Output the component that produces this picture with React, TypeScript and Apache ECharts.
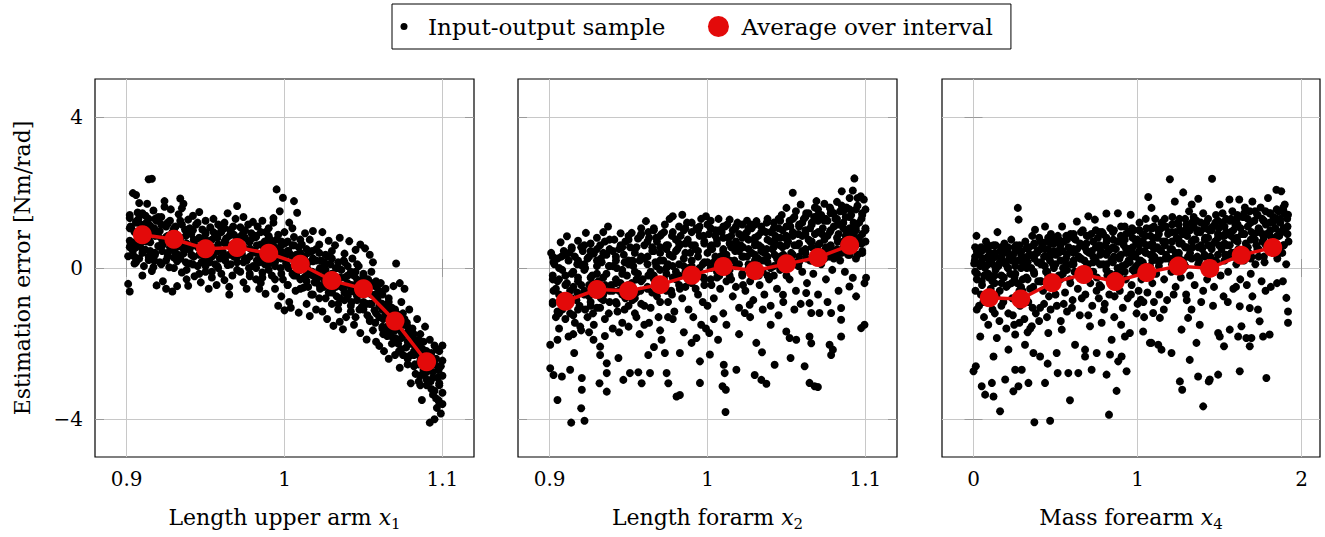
import React, { useEffect, useRef } from "react";
import * as echarts from "echarts";

// ---------- data ----------
const panelTitles = ["Length upper arm ", "Length forarm ", "Mass forearm "];
const panelSubscripts = ["1", "2", "4"];
const xTicks1 = [0.9, 1, 1.1];
const xTicks3 = [0, 1, 2];
const yTicks = [-4, 0, 4];

const avgXLength = [0.91, 0.93, 0.95, 0.97, 0.99, 1.01, 1.03, 1.05, 1.07, 1.09];
const avgXMass = [0.096, 0.288, 0.48, 0.672, 0.864, 1.056, 1.248, 1.44, 1.632, 1.824];
const avgUpperArm = [0.88, 0.76, 0.51, 0.54, 0.39, 0.1, -0.33, -0.55, -1.4, -2.48];
const avgForearmLength = [-0.88, -0.57, -0.6, -0.44, -0.19, 0.04, -0.07, 0.11, 0.28, 0.6];
const avgForearmMass = [-0.79, -0.82, -0.39, -0.17, -0.36, -0.12, 0.05, -0.01, 0.34, 0.54];

const upperArmSamples: number[][] = [
  [0.901,-0.42],[0.902,-0.62],[0.901,0.31],[0.902,0.72],[0.903,1.05],[0.902,1.32],[0.904,1.98],[0.906,1.93],[0.905,0.12],[0.906,0.55],[0.907,0.88],[0.907,1.47],[0.908,0.25],[0.909,1.15],[0.909,0.66],[0.904,0.45],[0.908,1.72],[0.91,-0.2],[0.906,1.23],
  [0.911,0.05],[0.912,0.48],[0.912,1.38],[0.913,0.92],[0.914,2.35],[0.916,2.36],[0.914,0.21],[0.915,1.12],[0.915,0.68],[0.916,-0.08],[0.917,1.52],[0.918,0.35],[0.918,0.85],[0.919,-0.46],[0.919,1.25],[0.92,0.58],[0.913,1.7],[0.917,0.02],
  [0.921,0.98],[0.921,0.15],[0.922,1.35],[0.923,0.62],[0.923,-0.35],[0.924,1.77],[0.925,0.82],[0.925,-0.55],[0.926,0.4],[0.926,1.18],[0.927,0.02],[0.928,1.55],[0.928,0.7],[0.929,-0.62],[0.929,0.95],[0.93,0.28],[0.924,1.62],
  [0.931,1.1],[0.931,0.52],[0.932,-0.48],[0.932,0.18],[0.933,1.42],[0.934,0.8],[0.934,1.84],[0.935,-0.12],[0.936,1.7],[0.936,0.38],[0.937,1.02],[0.938,0.65],[0.938,-0.3],[0.939,1.28],[0.939,-0.47],[0.94,0.12],[0.935,1.58],
  [0.941,0.9],[0.941,0.35],[0.942,1.38],[0.943,-0.22],[0.943,0.62],[0.944,1.15],[0.945,0.05],[0.946,0.78],[0.946,1.48],[0.947,-0.38],[0.948,0.45],[0.948,1.02],[0.949,0.2],[0.95,1.25],[0.95,-0.1],
  [0.951,0.72],[0.952,-0.55],[0.952,0.3],[0.953,1.08],[0.954,0.55],[0.954,-0.25],[0.955,1.3],[0.956,0.88],[0.956,0.1],[0.957,-0.45],[0.958,0.62],[0.958,1.15],[0.959,0.25],[0.96,0.95],[0.96,-0.15],
  [0.961,0.42],[0.962,1.2],[0.962,-0.32],[0.963,0.78],[0.964,0.08],[0.964,1.45],[0.965,-0.7],[0.966,0.55],[0.966,1.02],[0.967,-0.2],[0.968,0.3],[0.968,0.88],[0.969,1.3],[0.97,1.64],[0.97,0.15],[0.965,-0.5],
  [0.971,0.65],[0.972,-0.1],[0.972,1.08],[0.973,0.38],[0.974,1.35],[0.974,-0.38],[0.975,0.8],[0.976,-0.55],[0.976,0.2],[0.977,1.15],[0.978,0.52],[0.978,-0.22],[0.979,0.92],[0.98,0.05],[0.98,1.22],
  [0.981,0.45],[0.982,-0.3],[0.982,0.82],[0.983,1.1],[0.984,0.15],[0.984,-0.55],[0.985,0.62],[0.986,1.25],[0.986,-0.12],[0.987,0.35],[0.988,0.95],[0.988,-0.68],[0.989,0.58],[0.99,0.12],[0.99,1.05],[0.985,-0.4],
  [0.991,0.75],[0.992,-0.2],[0.992,0.42],[0.993,1.2],[0.994,-0.55],[0.994,0.05],[0.995,2.08],[0.996,0.88],[0.996,-1.0],[0.997,0.28],[0.997,1.5],[0.998,-0.75],[0.998,0.6],[0.999,1.86],[0.999,-0.3],[1.0,-1.12],[1.0,0.95],[0.993,1.32],
  [1.001,0.12],[1.002,-0.45],[1.002,0.7],[1.003,1.2],[1.003,-0.9],[1.004,0.35],[1.005,-0.15],[1.006,1.77],[1.006,0.82],[1.007,-0.6],[1.008,1.46],[1.008,0.2],[1.009,-1.18],[1.009,0.55],[1.01,-0.3],[1.005,1.05],[1.004,-1.05],
  [1.011,0.62],[1.012,-0.52],[1.012,0.08],[1.013,0.92],[1.014,-0.2],[1.014,-0.95],[1.015,0.4],[1.016,-1.27],[1.016,0.75],[1.017,-0.7],[1.018,0.18],[1.018,0.98],[1.019,-0.38],[1.02,0.5],[1.02,-1.1],[1.015,-0.05],
  [1.021,-0.25],[1.022,0.62],[1.022,-0.8],[1.023,0.2],[1.024,-1.15],[1.024,0.95],[1.025,-0.5],[1.026,0.35],[1.026,-0.05],[1.027,-1.35],[1.028,0.72],[1.028,-0.65],[1.029,0.1],[1.03,-0.95],[1.03,0.45],[1.025,-0.3],
  [1.031,-1.53],[1.032,-0.3],[1.032,0.6],[1.033,-0.75],[1.034,0.15],[1.034,-1.1],[1.035,0.8],[1.036,-0.5],[1.036,-0.05],[1.037,-1.62],[1.038,0.38],[1.038,-0.85],[1.039,-1.3],[1.04,0.05],[1.04,-0.4],[1.035,-1.42],
  [1.041,0.71],[1.042,-0.62],[1.042,-1.15],[1.043,0.25],[1.044,-0.2],[1.044,-1.5],[1.045,0.48],[1.046,-0.85],[1.046,-0.4],[1.047,0.05],[1.048,-1.72],[1.048,0.62],[1.049,-1.02],[1.05,-0.15],[1.05,-0.6],[1.045,-1.3],
  [1.051,0.52],[1.052,-1.89],[1.052,-0.95],[1.053,-0.3],[1.054,-1.4],[1.054,0.35],[1.055,-0.7],[1.056,-1.65],[1.056,0.15],[1.057,-1.12],[1.058,-0.5],[1.058,-1.95],[1.059,-0.85],[1.06,-2.06],[1.06,-1.3],[1.055,-0.1],
  [1.061,-0.4],[1.062,-1.55],[1.062,-0.95],[1.063,-2.2],[1.064,-1.2],[1.064,-0.55],[1.065,-1.8],[1.066,-2.4],[1.066,-0.8],[1.067,-1.45],[1.068,-2.0],[1.068,-1.05],[1.069,-0.48],[1.07,-1.65],[1.07,-2.3],[1.065,-1.3],[1.0707,0.12],
  [1.071,-1.2],[1.072,-2.0],[1.072,-1.6],[1.073,-2.64],[1.074,-0.9],[1.074,-1.85],[1.075,-2.3],[1.076,-1.35],[1.076,-0.55],[1.077,-2.1],[1.078,-1.7],[1.078,-2.55],[1.079,-1.1],[1.08,-2.0],[1.08,-3.05],[1.075,-1.5],[1.073,-0.4],
  [1.081,-1.6],[1.082,-2.3],[1.082,-1.9],[1.083,-2.8],[1.084,-1.35],[1.084,-2.1],[1.085,-2.55],[1.086,-1.75],[1.086,-3.1],[1.087,-3.49],[1.087,-2.35],[1.088,-1.95],[1.088,-2.7],[1.089,-1.55],[1.09,-2.2],[1.09,-2.95],[1.085,-3.0],
  [1.091,-2.5],[1.092,-4.09],[1.092,-1.9],[1.093,-3.2],[1.093,-2.25],[1.094,-2.75],[1.095,-4.0],[1.095,-2.05],[1.096,-3.45],[1.096,-2.4],[1.097,-2.9],[1.098,-3.1],[1.098,-2.2],[1.099,-3.85],[1.099,-2.6],[1.1,-3.3],[1.1,-2.05],[1.1,-3.6],
];

const upperArmCore: number[][] = [
  [0.9025,0.6],[0.9025,1.1],[0.905,0.3],[0.905,0.95],[0.9075,0.75],[0.9075,1.3],[0.91,0.4],[0.91,1.0],[0.9125,0.7],[0.9125,1.2],[0.915,0.45],[0.915,0.95],[0.9175,0.2],[0.9175,1.05],[0.92,0.85],[0.92,1.35],
  [0.9225,0.45],[0.9225,0.75],[0.925,0.2],[0.925,1.1],[0.9275,0.55],[0.9275,1.25],[0.93,0.6],[0.93,1.0],[0.9325,0.35],[0.9325,0.85],[0.935,0.55],[0.935,1.15],[0.9375,0.15],[0.9375,0.85],[0.94,0.5],[0.94,1.05],
  [0.9425,0.3],[0.9425,0.75],[0.945,0.55],[0.945,1.2],[0.9475,0.15],[0.9475,0.75],[0.95,0.4],[0.95,0.9],[0.9525,0.15],[0.9525,0.6],[0.955,0.35],[0.955,0.95],[0.9575,0.05],[0.9575,0.8],[0.96,0.45],[0.96,1.05],
  [0.9625,0.2],[0.9625,0.65],[0.965,0.35],[0.965,0.85],[0.9675,0.6],[0.9675,1.1],[0.97,0.3],[0.97,0.7],[0.9725,0.5],[0.9725,0.85],[0.975,0.25],[0.975,1.0],[0.9775,0.0],[0.9775,0.7],[0.98,0.45],[0.98,0.8],
  [0.9825,0.2],[0.9825,0.6],[0.985,0.3],[0.985,0.95],[0.9875,0.1],[0.9875,0.7],[0.99,0.5],[0.99,0.85],[0.9925,0.15],[0.9925,0.6],[0.995,0.35],[0.995,0.75],[0.9975,0.0],[0.9975,0.45],[1.0,0.3],[1.0,0.65],
  [1.0025,0.0],[1.0025,0.45],[1.005,0.25],[1.005,0.6],[1.0075,-0.2],[1.0075,0.35],[1.01,0.1],[1.01,0.75],[1.0125,-0.25],[1.0125,0.3],[1.015,0.15],[1.015,-0.5],[1.0175,-0.1],[1.0175,0.45],[1.02,-0.35],[1.02,0.2],
  [1.0225,0.0],[1.0225,-0.55],[1.025,0.15],[1.025,-0.2],[1.0275,-0.4],[1.0275,0.3],[1.03,-0.2],[1.03,-0.65],[1.0325,-0.5],[1.0325,0.0],[1.035,-0.25],[1.035,-0.8],[1.0375,-0.55],[1.0375,0.2],[1.04,-0.2],[1.04,-0.75],
  [1.0425,-0.45],[1.0425,-0.9],[1.045,-0.1],[1.045,-0.65],[1.0475,-0.35],[1.0475,-1.1],[1.05,-0.9],[1.05,-0.4],[1.0525,-0.6],[1.0525,-1.25],[1.055,-0.95],[1.055,-0.4],[1.0575,-1.45],[1.0575,-0.7],[1.06,-1.0],[1.06,-0.6],
  [1.0625,-1.35],[1.0625,-1.75],[1.065,-1.05],[1.065,-1.55],[1.0675,-1.8],[1.0675,-1.2],[1.07,-1.35],[1.07,-1.95],[1.0725,-1.5],[1.0725,-2.2],[1.075,-1.8],[1.075,-1.2],[1.0775,-2.35],[1.0775,-1.45],[1.08,-1.75],[1.08,-2.3],
  [1.0825,-2.05],[1.0825,-2.55],[1.085,-1.9],[1.085,-2.3],[1.0875,-2.15],[1.0875,-2.8],[1.09,-2.5],[1.09,-2.65],[1.0925,-2.35],[1.0925,-3.0],[1.095,-2.55],[1.095,-3.25],[1.0975,-2.7],[1.0975,-3.5],[1.1,-2.45],[1.1,-2.85],[1.0965,-2.15],[1.0965,-3.7],
];

const upperArmDense: number[][] = [
  [0.902,0.55],[0.902,1.05],[0.902,1.4],[0.906,0.7],[0.906,1.2],[0.906,0.15],[0.91,0.5],[0.91,0.95],[0.91,1.45],[0.914,0.75],[0.914,1.3],[0.914,0.3],
  [0.918,0.4],[0.918,0.9],[0.918,1.3],[0.922,0.6],[0.922,1.15],[0.922,0.1],[0.926,0.3],[0.926,0.85],[0.926,1.2],[0.93,0.45],[0.93,1.05],[0.93,0.0],
  [0.934,0.25],[0.934,0.7],[0.934,1.25],[0.938,0.5],[0.938,0.95],[0.938,-0.05],[0.942,0.1],[0.942,0.6],[0.942,1.0],[0.946,0.35],[0.946,0.8],[0.946,-0.15],
  [0.95,0.05],[0.95,0.5],[0.95,0.95],[0.954,0.3],[0.954,0.75],[0.954,-0.1],[0.958,0.0],[0.958,0.45],[0.958,0.9],[0.962,0.3],[0.962,0.7],[0.962,1.05],
  [0.966,0.1],[0.966,0.6],[0.966,0.95],[0.97,0.35],[0.97,0.8],[0.97,-0.05],[0.974,0.15],[0.974,0.55],[0.974,0.95],[0.978,0.3],[0.978,0.7],[0.978,-0.15],
  [0.982,0.0],[0.982,0.4],[0.982,0.85],[0.986,0.2],[0.986,0.6],[0.986,-0.25],[0.99,-0.05],[0.99,0.35],[0.99,0.8],[0.994,0.15],[0.994,0.55],[0.994,-0.3],
  [0.998,-0.15],[0.998,0.25],[0.998,0.7],[1.002,0.05],[1.002,0.45],[1.002,-0.45],[1.006,-0.2],[1.006,0.2],[1.006,0.6],[1.01,-0.05],[1.01,0.4],[1.01,-0.55],
  [1.014,-0.35],[1.014,0.05],[1.014,0.5],[1.018,-0.2],[1.018,0.25],[1.018,-0.7],[1.022,-0.45],[1.022,-0.05],[1.022,0.4],[1.026,-0.3],[1.026,0.1],[1.026,-0.8],
  [1.03,-0.6],[1.03,-0.15],[1.03,0.25],[1.034,-0.4],[1.034,0.0],[1.034,-0.95],[1.038,-0.65],[1.038,-0.25],[1.038,0.15],[1.042,-0.5],[1.042,-0.1],[1.042,-1.0],
  [1.046,-0.75],[1.046,-0.3],[1.046,0.1],[1.05,-0.6],[1.05,-0.2],[1.05,-1.1],[1.054,-0.95],[1.054,-0.5],[1.054,-1.35],[1.058,-0.8],[1.058,-1.2],[1.058,-0.35],
  [1.062,-1.1],[1.062,-0.7],[1.062,-1.6],[1.066,-1.25],[1.066,-0.9],[1.066,-1.7],[1.07,-1.5],[1.07,-1.1],[1.07,-1.85],[1.074,-1.7],[1.074,-1.3],[1.074,-2.15],
  [1.078,-1.95],[1.078,-1.55],[1.078,-2.4],[1.082,-2.2],[1.082,-1.75],[1.082,-2.6],[1.086,-2.45],[1.086,-2.0],[1.086,-2.85],[1.09,-2.75],[1.09,-2.3],[1.09,-3.1],
  [1.094,-2.9],[1.094,-2.5],[1.094,-3.35],[1.098,-3.05],[1.098,-2.6],[1.098,-3.55],
];

const forearmLengthSamples: number[][] = [
  [0.901,0.4],[0.902,-0.2],[0.902,-0.9],[0.903,0.1],[0.904,-1.3],[0.904,-0.55],[0.905,0.25],[0.906,-1.6],[0.906,-0.3],[0.907,0.68],[0.908,-1.1],[0.908,-0.05],[0.909,0.45],[0.91,-0.75],[0.905,-1.9],
  [0.911,0.84],[0.911,-0.4],[0.912,0.2],[0.913,-1.2],[0.913,-0.6],[0.914,0.55],[0.915,-0.1],[0.916,-1.45],[0.916,0.3],[0.917,-0.85],[0.918,0.72],[0.918,-0.25],[0.919,-1.0],[0.92,0.08],[0.92,-1.65],
  [0.921,0.45],[0.922,-0.7],[0.922,-0.05],[0.923,0.93],[0.924,-1.3],[0.924,0.25],[0.925,-0.45],[0.926,0.65],[0.926,-1.0],[0.927,-0.2],[0.928,0.38],[0.928,-1.5],[0.929,-0.6],[0.93,0.8],[0.93,0.05],
  [0.931,-0.35],[0.932,0.6],[0.932,-1.05],[0.933,0.15],[0.934,-0.7],[0.934,0.95],[0.935,-1.35],[0.936,0.35],[0.936,-0.15],[0.937,1.1],[0.938,-0.9],[0.938,0.5],[0.939,-0.45],[0.94,0.05],[0.94,-1.6],
  [0.941,0.75],[0.942,-0.3],[0.942,0.2],[0.943,-1.15],[0.944,0.5],[0.944,-0.6],[0.945,0.92],[0.946,-0.05],[0.946,-1.45],[0.947,0.35],[0.948,-0.8],[0.948,0.7],[0.949,-0.2],[0.95,0.1],[0.95,-1.0],
  [0.951,0.55],[0.952,-0.4],[0.952,0.93],[0.953,0.05],[0.954,-1.2],[0.954,0.4],[0.955,-0.65],[0.956,0.78],[0.956,-0.15],[0.957,0.2],[0.958,-0.95],[0.958,1.05],[0.959,-0.3],[0.96,0.6],[0.96,-1.5],
  [0.961,1.24],[0.962,0.3],[0.962,-0.5],[0.963,0.8],[0.964,-0.1],[0.964,-1.05],[0.965,0.55],[0.966,1.0],[0.966,-0.3],[0.967,0.15],[0.968,-0.75],[0.968,0.7],[0.969,-1.3],[0.97,0.4],[0.97,-0.05],
  [0.971,0.9],[0.972,-0.45],[0.972,0.2],[0.973,1.15],[0.974,-0.15],[0.974,0.6],[0.975,-0.9],[0.976,0.35],[0.976,1.3],[0.977,-0.6],[0.978,0.05],[0.978,1.37],[0.979,-1.15],[0.98,0.75],[0.98,-0.3],
  [0.981,0.5],[0.982,1.1],[0.982,-0.2],[0.983,0.85],[0.984,1.41],[0.984,-0.8],[0.985,0.25],[0.986,-0.5],[0.986,0.65],[0.987,1.2],[0.988,-1.1],[0.988,0.0],[0.989,0.4],[0.99,-0.4],[0.99,0.95],
  [0.991,-1.3],[0.992,0.6],[0.992,-0.15],[0.993,1.05],[0.994,0.3],[0.994,-0.7],[0.995,0.85],[0.996,-1.5],[0.996,1.3],[0.997,0.1],[0.998,-0.45],[0.998,0.7],[0.999,1.37],[1.0,-1.0],[1.0,0.4],
  [1.001,0.9],[1.002,-0.3],[1.002,1.25],[1.003,0.5],[1.004,-0.8],[1.004,0.15],[1.005,1.0],[1.006,-0.1],[1.006,0.65],[1.007,1.3],[1.008,-0.55],[1.008,0.3],[1.009,0.95],[1.01,-1.2],[1.01,0.05],
  [1.011,1.1],[1.012,0.35],[1.012,-0.35],[1.013,0.8],[1.014,1.28],[1.014,-0.05],[1.015,0.55],[1.016,-0.75],[1.016,1.0],[1.017,0.2],[1.018,0.7],[1.018,-0.5],[1.019,1.2],[1.02,0.45],[1.02,-1.05],
  [1.021,0.6],[1.022,1.15],[1.022,-0.2],[1.023,0.3],[1.024,0.9],[1.024,-0.6],[1.025,1.25],[1.026,0.1],[1.026,0.75],[1.027,-0.35],[1.028,1.05],[1.028,0.4],[1.029,-0.85],[1.03,0.6],[1.03,0.0],
  [1.031,1.24],[1.032,0.25],[1.032,0.85],[1.033,-0.45],[1.034,0.55],[1.034,1.1],[1.035,-0.1],[1.036,0.4],[1.036,-0.7],[1.037,0.95],[1.038,0.15],[1.038,1.3],[1.039,-0.3],[1.04,0.7],[1.04,-1.0],
  [1.041,0.5],[1.042,1.2],[1.042,-0.2],[1.043,0.85],[1.044,0.25],[1.044,-0.55],[1.045,1.05],[1.046,0.6],[1.046,-0.05],[1.047,1.4],[1.048,0.35],[1.048,-0.9],[1.049,0.8],[1.05,1.59],[1.05,0.1],
  [1.051,0.7],[1.052,1.25],[1.052,-0.3],[1.053,0.4],[1.054,1.99],[1.054,0.95],[1.055,0.15],[1.056,1.5],[1.056,-0.6],[1.057,0.6],[1.058,1.1],[1.058,0.3],[1.059,1.68],[1.06,0.85],[1.06,-0.1],
  [1.061,1.3],[1.062,0.5],[1.062,1.0],[1.063,-0.4],[1.064,0.75],[1.064,1.45],[1.065,0.2],[1.066,1.15],[1.066,0.55],[1.067,-0.15],[1.068,0.9],[1.068,1.6],[1.069,1.77],[1.07,0.35],[1.07,1.25],
  [1.071,0.65],[1.072,1.4],[1.072,0.1],[1.073,1.05],[1.074,0.45],[1.074,1.7],[1.075,-0.3],[1.076,0.85],[1.076,1.25],[1.077,0.3],[1.078,1.55],[1.078,0.6],[1.079,-0.05],[1.08,1.1],[1.08,0.4],
  [1.081,1.3],[1.082,0.5],[1.082,1.75],[1.083,0.9],[1.084,0.2],[1.084,1.5],[1.085,2.03],[1.086,0.7],[1.086,1.2],[1.087,-0.1],[1.088,1.6],[1.088,0.95],[1.089,0.35],[1.09,1.85],[1.09,1.05],
  [1.091,1.4],[1.092,0.6],[1.092,2.05],[1.093,2.37],[1.094,1.0],[1.094,0.25],[1.095,1.65],[1.096,1.2],[1.096,0.8],[1.097,1.9],[1.098,0.45],[1.098,1.45],[1.099,1.81],[1.1,1.05],[1.1,0.7],
  [0.9004,-2.65],[0.9025,-2.83],[0.9078,-2.87],[0.905,-3.49],[0.9137,-4.09],[0.92,-3.71],[0.9221,-4.04],[0.9204,-3.22],[0.9204,-2.91],[0.913,-2.69],[0.9156,-2.25],[0.9004,-2.03],[0.912,-1.81],[0.9194,-1.55],
  [0.9278,-1.9],[0.932,-2.08],[0.932,-2.3],[0.9362,-2.52],[0.9362,-2.78],[0.9316,-3.05],[0.9362,-3.27],[0.9436,-2.38],[0.9467,-2.96],[0.9509,-2.78],[0.9562,-2.76],[0.9583,-3.05],[0.9636,-2.78],[0.9625,-2.3],
  [0.9661,-2.09],[0.9709,-1.9],[0.973,-2.25],[0.9741,-2.78],[0.9752,-3.05],[0.9804,-3.4],[0.9825,-3.36],[0.9825,-2.25],[0.9899,-1.98],[0.9952,-2.47],[0.9952,-3.04],[1.0015,-2.29],[1.0011,-1.72],[1.0067,-1.9],
  [1.0103,-2.56],[1.0109,-2.78],[1.0095,-3.13],[1.0116,-3.22],[1.0114,-3.81],[1.0183,-2.69],[1.0236,-1.19],[1.0267,-0.97],[1.0309,-1.98],[1.0345,-2.23],[1.0299,-2.83],[1.0341,-2.96],[1.0373,-3.06],[1.0425,-2.56],
  [1.0499,-1.68],[1.052,-1.85],[1.0562,-1.9],[1.0526,-2.38],[1.0478,-0.71],[1.0615,-2.6],[1.0646,-1.81],[1.0657,-1.99],[1.0646,-3.04],[1.0678,-3.13],[1.0699,-3.15],[1.0646,-0.93],[1.0657,-1.19],[1.0709,-1.19],
  [1.0783,-1.19],[1.0773,-2.03],[1.0783,-2.3],[1.0794,-2.16],[1.0846,-1.06],[1.0846,-1.37],[1.0846,-1.81],[1.0973,-1.59],[1.0994,-1.5],[1.0899,-0.49],[1.0941,-0.75],[1.0994,-0.4],[1.1004,-0.26],[1.092,-0.26],[1.0625,-0.66],
];

const forearmLengthCore: number[][] = [
  [0.9025,-0.6],[0.9025,0.15],[0.905,-1.15],[0.905,-0.35],[0.9075,-0.8],[0.9075,0.3],[0.91,-1.35],[0.91,-0.2],[0.9125,-0.9],[0.9125,0.4],[0.915,-0.5],[0.915,-1.25],[0.9175,0.1],[0.9175,-0.65],[0.92,-0.45],[0.92,0.55],
  [0.9225,-1.1],[0.9225,0.0],[0.925,-0.75],[0.925,0.3],[0.9275,-1.2],[0.9275,-0.4],[0.93,-0.15],[0.93,0.5],[0.9325,-0.8],[0.9325,0.25],[0.935,-0.45],[0.935,0.7],[0.9375,-1.2],[0.9375,0.05],[0.94,-0.6],[0.94,0.45],
  [0.9425,-0.95],[0.9425,0.0],[0.945,-0.4],[0.945,0.6],[0.9475,-1.1],[0.9475,0.15],[0.95,-0.55],[0.95,0.75],[0.9525,-0.85],[0.9525,0.2],[0.955,-0.3],[0.955,0.55],[0.9575,-0.6],[0.9575,0.85],[0.96,-1.0],[0.96,0.25],
  [0.9625,-0.2],[0.9625,0.95],[0.965,-0.65],[0.965,0.45],[0.9675,0.05],[0.9675,0.8],[0.97,-0.9],[0.97,0.55],[0.9725,-0.3],[0.9725,0.95],[0.975,0.1],[0.975,0.6],[0.9775,-0.7],[0.9775,0.85],[0.98,-0.1],[0.98,0.45],
  [0.9825,-0.55],[0.9825,0.6],[0.985,0.05],[0.985,1.0],[0.9875,-0.3],[0.9875,0.75],[0.99,0.2],[0.99,1.2],[0.9925,-0.55],[0.9925,0.5],[0.995,0.0],[0.995,1.1],[0.9975,-0.25],[0.9975,0.85],[1.0,0.15],[1.0,1.15],
  [1.0025,-0.45],[1.0025,0.6],[1.005,0.3],[1.005,0.85],[1.0075,-0.2],[1.0075,1.0],[1.01,0.45],[1.01,0.8],[1.0125,0.0],[1.0125,1.15],[1.015,-0.3],[1.015,0.85],[1.0175,0.45],[1.0175,1.05],[1.02,0.1],[1.02,0.9],
  [1.0225,-0.45],[1.0225,0.55],[1.025,0.3],[1.025,0.95],[1.0275,0.0],[1.0275,1.15],[1.03,0.35],[1.03,0.8],[1.0325,-0.2],[1.0325,0.6],[1.035,0.2],[1.035,1.0],[1.0375,0.5],[1.0375,1.2],[1.04,0.0],[1.04,0.95],
  [1.0425,0.35],[1.0425,0.7],[1.045,0.15],[1.045,1.3],[1.0475,0.55],[1.0475,1.0],[1.05,-0.2],[1.05,0.85],[1.0525,0.3],[1.0525,1.1],[1.055,0.6],[1.055,1.35],[1.0575,0.05],[1.0575,0.9],[1.06,0.45],[1.06,1.2],
  [1.0625,0.25],[1.0625,1.45],[1.065,0.7],[1.065,1.05],[1.0675,0.3],[1.0675,1.35],[1.07,0.6],[1.07,1.55],[1.0725,0.2],[1.0725,0.9],[1.075,0.55],[1.075,1.3],[1.0775,0.95],[1.0775,1.6],[1.08,0.25],[1.08,1.45],
  [1.0825,0.7],[1.0825,1.15],[1.085,0.4],[1.085,1.65],[1.0875,0.85],[1.0875,1.35],[1.09,0.5],[1.09,1.55],[1.0925,0.9],[1.0925,1.2],[1.095,0.35],[1.095,1.85],[1.0975,0.65],[1.0975,1.3],[1.1,1.0],[1.1,1.55],
  [0.944,-1.7],[0.95,-1.55],[0.957,-1.75],[0.963,-1.45],[0.97,-1.65],[0.978,-1.35],[0.985,-1.7],[0.993,-1.85],[0.999,-1.6],[1.004,-1.35],[1.012,-1.5],[1.02,-1.75],[1.027,-1.3],[1.04,-1.5],
  [1.045,-1.25],[1.055,-1.1],[1.07,-0.7],[1.076,-0.9],[1.083,-0.6],[1.059,-0.95],[1.035,-1.1],[0.997,-0.9],[0.975,-1.3],[0.955,-1.3],[0.935,-1.8],[0.925,-1.7],[0.915,-1.75],
];

const forearmLengthDense: number[][] = [
  [0.902,-0.95],[0.902,-0.3],[0.902,0.3],[0.906,-0.7],[0.906,0.0],[0.906,-1.2],[0.91,-0.45],[0.91,0.35],[0.91,-1.0],[0.914,-0.8],[0.914,-0.15],[0.914,0.5],
  [0.918,-1.1],[0.918,-0.35],[0.918,0.2],[0.922,-0.6],[0.922,0.1],[0.922,0.6],[0.926,-0.9],[0.926,-0.25],[0.926,0.45],[0.93,-0.5],[0.93,0.2],[0.93,-1.05],
  [0.934,-0.25],[0.934,0.4],[0.934,-0.85],[0.938,-0.6],[0.938,0.05],[0.938,0.75],[0.942,-0.4],[0.942,0.3],[0.942,-0.9],[0.946,-0.15],[0.946,0.55],[0.946,-0.7],
  [0.95,-0.45],[0.95,0.2],[0.95,0.85],[0.954,-0.1],[0.954,0.5],[0.954,-0.8],[0.958,-0.35],[0.958,0.3],[0.958,0.9],[0.962,-0.55],[0.962,0.1],[0.962,0.7],
  [0.966,-0.2],[0.966,0.45],[0.966,1.05],[0.97,-0.45],[0.97,0.2],[0.97,0.85],[0.974,0.0],[0.974,0.5],[0.974,-0.6],[0.978,-0.25],[0.978,0.3],[0.978,0.95],
  [0.982,0.1],[0.982,0.65],[0.982,-0.45],[0.986,-0.1],[0.986,0.4],[0.986,1.05],[0.99,0.05],[0.99,0.6],[0.99,-0.35],[0.994,-0.2],[0.994,0.45],[0.994,1.0],
  [0.998,0.15],[0.998,0.65],[0.998,-0.3],[1.002,0.0],[1.002,0.55],[1.002,1.05],[1.006,0.25],[1.006,0.75],[1.006,-0.25],[1.01,-0.05],[1.01,0.5],[1.01,1.1],
  [1.014,0.2],[1.014,0.65],[1.014,-0.2],[1.018,0.05],[1.018,0.55],[1.018,1.1],[1.022,0.3],[1.022,0.8],[1.022,-0.15],[1.026,0.0],[1.026,0.5],[1.026,1.05],
  [1.03,0.2],[1.03,0.7],[1.03,1.15],[1.034,-0.05],[1.034,0.45],[1.034,0.95],[1.038,0.3],[1.038,0.75],[1.038,-0.2],[1.042,0.05],[1.042,0.55],[1.042,1.05],
  [1.046,0.3],[1.046,0.8],[1.046,1.25],[1.05,0.1],[1.05,0.6],[1.05,1.1],[1.054,0.35],[1.054,0.85],[1.054,1.3],[1.058,0.15],[1.058,0.65],[1.058,1.15],
  [1.062,0.4],[1.062,0.9],[1.062,1.35],[1.066,0.2],[1.066,0.7],[1.066,1.2],[1.07,0.45],[1.07,0.95],[1.07,1.4],[1.074,0.25],[1.074,0.75],[1.074,1.25],
  [1.078,0.5],[1.078,1.0],[1.078,1.45],[1.082,0.3],[1.082,0.8],[1.082,1.3],[1.086,0.55],[1.086,1.05],[1.086,1.5],[1.09,0.35],[1.09,0.85],[1.09,1.35],
  [1.094,0.6],[1.094,1.1],[1.094,1.55],[1.098,0.4],[1.098,0.9],[1.098,1.4],
];

const forearmMassSamples: number[][] = [
  [0.004,0.12],[0.008,0.2],[0.012,-0.6],[0.018,0.85],[0.022,-0.15],[0.028,0.35],[0.034,-1.0],[0.04,0.05],[0.046,0.55],[0.052,-0.45],[0.058,0.25],[0.064,-1.3],[0.07,0.0],[0.076,0.7],[0.082,-0.8],[0.088,0.3],[0.094,-0.25],
  [0.1,0.4],[0.105,-0.55],[0.11,0.15],[0.116,-1.1],[0.122,0.6],[0.128,-0.2],[0.134,0.3],[0.14,-0.75],[0.146,0.95],[0.152,0.05],[0.158,-1.4],[0.164,0.45],[0.17,-0.4],[0.176,0.2],[0.182,-0.9],[0.188,0.65],
  [0.196,0.1],[0.2,-0.5],[0.206,0.5],[0.212,-1.2],[0.218,0.25],[0.224,-0.15],[0.23,0.75],[0.236,-0.8],[0.242,0.35],[0.248,-1.5],[0.254,0.05],[0.26,0.6],[0.266,-0.4],[0.27,1.59],[0.275,1.28],[0.278,0.2],[0.284,-1.0],
  [0.292,0.45],[0.298,-0.6],[0.304,0.1],[0.31,-1.35],[0.316,0.7],[0.322,-0.25],[0.328,0.3],[0.334,-0.9],[0.34,0.55],[0.346,-1.6],[0.352,0.0],[0.358,0.85],[0.364,-0.5],[0.37,0.25],[0.375,1.01],[0.38,-1.2],
  [0.388,0.4],[0.394,-0.35],[0.4,0.8],[0.406,-1.05],[0.412,0.15],[0.418,0.6],[0.424,-0.6],[0.43,0.3],[0.436,1.1],[0.442,-0.1],[0.448,-1.3],[0.454,0.5],[0.46,-0.75],[0.466,0.2],[0.472,0.9],[0.478,-0.4],
  [0.484,0.1],[0.49,0.65],[0.496,-0.5],[0.502,0.35],[0.508,-1.0],[0.514,0.85],[0.52,-0.2],[0.526,0.5],[0.532,-1.4],[0.54,1.1],[0.546,0.0],[0.552,0.7],[0.558,-0.65],[0.564,0.25],[0.57,-1.15],
  [0.58,0.55],[0.586,-0.3],[0.592,0.9],[0.598,0.1],[0.604,-0.85],[0.61,0.4],[0.616,-0.1],[0.622,0.75],[0.63,1.23],[0.636,-0.55],[0.642,0.3],[0.648,-1.25],[0.654,0.6],[0.66,-0.2],[0.666,1.0],
  [0.676,0.2],[0.682,-0.7],[0.688,0.65],[0.694,-0.05],[0.7,1.37],[0.706,0.4],[0.712,-0.4],[0.718,0.9],[0.724,-1.0],[0.73,0.15],[0.74,1.28],[0.746,0.55],[0.752,-0.25],[0.758,0.8],[0.764,-0.8],
  [0.772,0.35],[0.778,-0.5],[0.784,0.95],[0.79,0.1],[0.796,-1.1],[0.802,0.6],[0.81,1.44],[0.816,-0.2],[0.822,0.45],[0.828,-0.7],[0.834,1.05],[0.84,0.2],[0.846,-0.35],[0.852,0.75],[0.858,-1.3],
  [0.868,0.5],[0.874,-0.15],[0.88,1.45],[0.886,0.3],[0.892,-0.6],[0.898,0.85],[0.904,0.05],[0.91,-1.05],[0.916,0.6],[0.922,1.1],[0.928,-0.3],[0.934,0.4],[0.94,-0.8],[0.946,0.95],[0.952,0.15],[0.958,1.41],
  [0.964,-0.45],[0.97,0.55],[0.976,1.0],[0.982,-0.1],[0.988,0.3],[0.994,-1.2],[1.0,0.75],[1.006,-0.6],[1.012,1.2],[1.018,0.2],[1.024,-0.3],[1.03,0.9],[1.036,-0.9],[1.042,0.45],[1.05,1.3],[1.054,0.0],
  [1.06,-0.65],[1.065,1.88],[1.07,0.6],[1.076,0.05],[1.082,1.05],[1.085,1.59],[1.09,-0.4],[1.096,0.8],[1.102,0.3],[1.108,1.3],[1.114,-0.15],[1.12,0.55],[1.126,1.0],[1.132,-0.7],[1.138,0.2],[1.146,1.2],
  [1.156,0.7],[1.162,-0.3],[1.168,1.1],[1.174,0.35],[1.18,-0.85],[1.186,0.9],[1.197,2.35],[1.2,0.5],[1.206,-0.1],[1.212,1.35],[1.218,0.25],[1.227,1.76],[1.232,-0.5],[1.238,0.8],[1.244,1.2],
  [1.252,0.4],[1.258,1.0],[1.264,-0.25],[1.27,0.65],[1.278,2.0],[1.284,0.1],[1.29,1.3],[1.296,-0.7],[1.302,0.85],[1.308,0.3],[1.314,1.5],[1.32,-0.2],[1.33,1.68],[1.336,0.55],[1.342,1.1],
  [1.348,-0.45],[1.354,0.75],[1.36,1.25],[1.37,1.83],[1.375,0.2],[1.382,0.95],[1.388,-0.9],[1.394,0.5],[1.4,1.45],[1.406,0.0],[1.412,0.8],[1.418,1.2],[1.424,-0.3],[1.43,0.6],[1.436,1.0],
  [1.444,0.3],[1.454,2.36],[1.46,1.1],[1.466,-0.5],[1.472,0.7],[1.478,1.4],[1.484,0.15],[1.49,0.9],[1.5,1.68],[1.506,-0.2],[1.512,0.5],[1.518,1.2],[1.524,-0.75],[1.53,0.85],[1.534,0.35],
  [1.54,1.3],[1.546,0.6],[1.552,-0.1],[1.56,1.81],[1.566,0.95],[1.572,0.3],[1.578,1.5],[1.584,-0.55],[1.59,0.75],[1.596,1.15],[1.602,0.1],[1.608,1.4],[1.614,0.5],[1.62,1.81],[1.626,-0.3],
  [1.636,0.9],[1.642,1.35],[1.648,0.2],[1.654,1.6],[1.66,0.65],[1.666,-0.45],[1.672,1.1],[1.678,0.4],[1.684,1.5],[1.69,-0.15],[1.7,1.76],[1.706,0.8],[1.712,1.25],[1.718,0.1],[1.724,0.6],
  [1.732,1.4],[1.738,0.3],[1.744,1.0],[1.75,1.6],[1.756,-0.35],[1.762,0.7],[1.768,1.25],[1.774,0.15],[1.78,1.5],[1.786,0.9],[1.795,1.85],[1.8,0.45],[1.806,1.2],[1.812,-0.5],[1.818,0.8],
  [1.828,1.35],[1.834,0.6],[1.84,1.05],[1.846,2.07],[1.852,0.25],[1.858,1.5],[1.864,0.85],[1.87,1.2],[1.876,2.03],[1.882,0.4],[1.888,1.6],[1.897,1.68],[1.9,0.95],[1.906,0.1],[1.912,1.3],[1.917,1.41],[1.92,0.7],
  [0.0,-2.73],[0.014,-2.6],[0.05,-3.13],[0.071,-3.35],[0.122,-3.4],[0.112,-3.04],[0.162,-3.79],[0.193,-2.95],[0.243,-3.26],[0.254,-2.69],[0.294,-2.69],[0.274,-3.13],[0.335,-3.04],[0.371,-4.08],
  [0.365,-2.25],[0.406,-2.34],[0.436,-3.04],[0.467,-4.04],[0.452,-2.53],[0.507,-2.25],[0.513,-2.78],[0.578,-2.78],[0.588,-3.5],[0.639,-2.78],[0.68,-2.34],[0.72,-2.69],[0.751,-2.25],[0.811,-2.82],
  [0.826,-3.88],[0.832,-2.29],[0.872,-3.25],[0.882,-2.47],[0.933,-2.73],[0.903,-2.34],[0.041,-1.81],[0.122,-2.34],[0.142,-1.85],[0.213,-2.16],[0.254,-1.76],[0.314,-2.03],[0.355,-1.54],[0.456,-1.72],
  [0.538,-1.63],[0.619,-2.03],[0.68,-2.16],[0.71,-1.54],[0.781,-1.45],[0.842,-1.9],[0.923,-1.81],[0.953,-1.72],[1.034,-1.68],[1.075,-1.98],[1.126,-2.03],[1.146,-2.16],[1.207,-2.25],[1.258,-3.0],
  [1.272,-3.22],[1.318,-2.43],[1.359,-1.98],[1.369,-2.87],[1.4,-3.66],[1.434,-3.0],[1.44,-2.95],[1.491,-2.82],[1.527,-2.07],[1.623,-2.73],[1.684,-2.07],[1.785,-2.91],[1.765,-1.81],[1.805,-1.76],
  [1.268,-1.63],[1.308,-1.32],[1.329,-1.1],[1.379,-1.5],[1.491,-1.72],[1.501,-1.81],[1.562,-1.63],[1.613,-1.81],[1.633,-1.54],[1.663,-1.85],[1.694,-1.85],[1.623,-1.01],[1.684,-1.06],[1.734,-1.1],
  [1.744,-1.41],[1.907,-0.79],[1.917,-1.15],[1.917,-1.45],[1.886,-0.35],[1.085,-1.98],[1.095,-1.19],[1.136,-1.32],[1.02,-0.84],
];

const forearmMassCore: number[][] = [
  [0.02,-0.3],[0.02,0.45],[0.045,0.15],[0.045,-0.7],[0.065,0.5],[0.065,-0.2],[0.09,0.1],[0.09,0.55],[0.115,-0.35],[0.115,0.25],[0.135,0.6],[0.135,-0.05],[0.16,0.15],[0.16,-0.6],[0.185,0.4],[0.185,-0.25],
  [0.21,0.0],[0.21,0.55],[0.232,-0.4],[0.232,0.2],[0.255,0.45],[0.255,-0.15],[0.28,0.6],[0.28,-0.6],[0.3,0.2],[0.3,-0.3],[0.325,0.55],[0.325,0.0],[0.345,-0.55],[0.345,0.35],[0.368,0.6],[0.368,-0.1],
  [0.39,0.15],[0.39,0.45],[0.41,-0.35],[0.41,0.7],[0.435,0.05],[0.435,0.5],[0.455,0.8],[0.455,-0.2],[0.475,0.35],[0.475,0.65],[0.5,-0.35],[0.5,0.1],[0.52,0.75],[0.52,0.4],[0.545,-0.15],[0.545,0.45],
  [0.565,0.85],[0.565,0.1],[0.59,0.5],[0.59,-0.4],[0.61,0.2],[0.61,0.8],[0.632,-0.15],[0.632,0.5],[0.655,0.95],[0.655,0.25],[0.678,0.55],[0.678,-0.3],[0.7,0.1],[0.7,0.85],[0.722,0.45],[0.722,-0.1],
  [0.745,1.0],[0.745,0.2],[0.768,0.6],[0.768,-0.45],[0.79,0.4],[0.79,0.9],[0.812,0.1],[0.812,0.7],[0.835,0.5],[0.835,-0.15],[0.856,1.0],[0.856,0.3],[0.878,0.7],[0.878,0.0],[0.9,0.35],[0.9,1.1],
  [0.922,0.75],[0.922,-0.1],[0.945,0.5],[0.945,0.2],[0.966,1.05],[0.966,0.3],[0.99,0.7],[0.99,0.05],[1.01,0.45],[1.01,1.0],[1.032,0.15],[1.032,0.7],[1.055,0.6],[1.055,1.05],[1.078,0.35],[1.078,0.85],
  [1.1,1.1],[1.1,0.5],[1.122,0.2],[1.122,0.8],[1.144,1.05],[1.144,0.45],[1.166,0.6],[1.166,1.3],[1.19,0.25],[1.19,0.95],[1.21,0.7],[1.21,1.15],[1.232,0.4],[1.232,0.95],[1.255,1.3],[1.255,0.65],
  [1.276,0.2],[1.276,0.9],[1.298,1.15],[1.298,0.55],[1.32,0.4],[1.32,1.0],[1.342,0.75],[1.342,1.35],[1.364,0.3],[1.364,0.95],[1.386,1.2],[1.386,0.6],[1.408,0.35],[1.408,1.05],[1.43,1.3],[1.43,0.8],
  [1.452,0.5],[1.452,1.0],[1.474,0.2],[1.474,1.2],[1.496,0.6],[1.496,1.05],[1.518,0.85],[1.518,1.45],[1.54,0.35],[1.54,0.95],[1.562,0.6],[1.562,1.25],[1.584,1.0],[1.584,0.4],[1.606,0.8],[1.606,1.3],
  [1.628,0.35],[1.628,1.05],[1.65,1.45],[1.65,0.9],[1.672,0.55],[1.672,1.3],[1.694,0.95],[1.694,0.3],[1.716,1.5],[1.716,0.75],[1.738,1.05],[1.738,0.5],[1.76,1.3],[1.76,0.9],[1.782,0.6],[1.782,1.15],
  [1.804,1.45],[1.804,0.95],[1.826,0.75],[1.826,1.2],[1.848,1.55],[1.848,0.5],[1.87,0.95],[1.87,1.3],[1.892,0.6],[1.892,1.45],[1.914,1.1],[1.914,0.9],
  [0.02,-1.1],[0.06,-0.9],[0.09,-1.5],[0.13,-1.2],[0.17,-1.0],[0.2,-1.6],[0.24,-1.25],[0.28,-1.45],[0.31,-0.8],[0.33,-1.7],[0.36,-1.05],[0.4,-1.4],[0.43,-0.95],[0.47,-1.1],
  [0.5,-0.7],[0.55,-0.95],[0.6,-1.05],[0.66,-0.8],[0.7,-1.25],[0.75,-0.6],[0.8,-0.95],[0.86,-0.75],[0.9,-1.5],[0.96,-0.7],[1.0,-0.95],[1.04,-1.3],[1.1,-0.9],[1.16,-1.1],
  [1.22,-0.7],[1.3,-0.85],[1.4,-0.6],[1.46,-1.0],[1.55,-0.9],[1.6,-0.5],[1.7,-0.75],[1.78,-0.6],[1.85,-0.4],
];

const forearmMassDense: number[][] = [
  [0.01,-0.1],[0.01,0.3],[0.01,0.55],[0.05,-0.35],[0.05,0.1],[0.05,0.45],[0.09,-0.15],[0.09,0.25],[0.09,0.6],[0.13,-0.4],[0.13,0.05],[0.13,0.4],
  [0.17,-0.2],[0.17,0.3],[0.17,0.55],[0.21,-0.45],[0.21,0.0],[0.21,0.4],[0.25,-0.25],[0.25,0.2],[0.25,0.55],[0.29,-0.5],[0.29,0.0],[0.29,0.35],
  [0.33,-0.3],[0.33,0.15],[0.33,0.5],[0.37,-0.15],[0.37,0.35],[0.37,0.65],[0.41,-0.35],[0.41,0.1],[0.41,0.5],[0.45,-0.1],[0.45,0.3],[0.45,0.7],
  [0.49,0.0],[0.49,0.45],[0.49,0.8],[0.53,-0.3],[0.53,0.2],[0.53,0.6],[0.57,-0.05],[0.57,0.35],[0.57,0.75],[0.61,0.1],[0.61,0.5],[0.61,0.9],
  [0.65,-0.2],[0.65,0.25],[0.65,0.65],[0.69,0.05],[0.69,0.45],[0.69,0.85],[0.73,-0.1],[0.73,0.3],[0.73,0.7],[0.77,0.1],[0.77,0.5],[0.77,0.95],
  [0.81,-0.05],[0.81,0.35],[0.81,0.8],[0.85,0.15],[0.85,0.55],[0.85,0.95],[0.89,-0.15],[0.89,0.25],[0.89,0.7],[0.93,0.1],[0.93,0.5],[0.93,0.9],
  [0.97,-0.05],[0.97,0.4],[0.97,0.8],[1.01,0.15],[1.01,0.6],[1.01,1.0],[1.05,0.0],[1.05,0.4],[1.05,0.85],[1.09,0.2],[1.09,0.65],[1.09,1.05],
  [1.13,0.05],[1.13,0.5],[1.13,0.9],[1.17,0.25],[1.17,0.7],[1.17,1.1],[1.21,0.1],[1.21,0.5],[1.21,0.95],[1.25,0.3],[1.25,0.75],[1.25,1.15],
  [1.29,0.05],[1.29,0.55],[1.29,1.0],[1.33,0.25],[1.33,0.7],[1.33,1.2],[1.37,0.1],[1.37,0.55],[1.37,1.0],[1.41,0.3],[1.41,0.75],[1.41,1.15],
  [1.45,0.15],[1.45,0.6],[1.45,1.05],[1.49,0.35],[1.49,0.8],[1.49,1.25],[1.53,0.2],[1.53,0.65],[1.53,1.1],[1.57,0.4],[1.57,0.85],[1.57,1.3],
  [1.61,0.2],[1.61,0.7],[1.61,1.15],[1.65,0.45],[1.65,0.9],[1.65,1.35],[1.69,0.25],[1.69,0.75],[1.69,1.2],[1.73,0.5],[1.73,0.95],[1.73,1.4],
  [1.77,0.3],[1.77,0.8],[1.77,1.25],[1.81,0.55],[1.81,1.0],[1.81,1.45],[1.85,0.35],[1.85,0.85],[1.85,1.3],[1.89,0.6],[1.89,1.05],[1.89,1.5],
];

// ---------- chart ----------
const FONT = "'DejaVu Serif', 'Liberation Serif', serif";
const SERIES_SAMPLE = "Input-output sample";
const SERIES_AVG = "Average over interval";
const RED = "#e30a0a";

const gridBoxes = [
  { left: 95, width: 379 },
  { left: 518, width: 379 },
  { left: 942, width: 378 },
];
const xRanges = [
  [0.88, 1.12],
  [0.88, 1.12],
  [-0.192, 2.112],
];

const minusFmt = (v: number) => (v < 0 ? "\u2212" + Math.abs(v) : String(v));

// legend icons: 29x22 boxes, circle placed near the left so text keeps its gap
const smallDotIcon =
  "path://M0,0M29,22M6.5,11a3.5,3.5 0 1,0 7,0a3.5,3.5 0 1,0 -7,0z";
const bigDotIcon =
  "path://M0,0M29,22M0.5,11a10.5,10.5 0 1,0 21,0a10.5,10.5 0 1,0 -21,0z";

function buildOption() {
  const samples = [
    upperArmSamples.concat(upperArmCore, upperArmDense),
    forearmLengthSamples.concat(forearmLengthCore, forearmLengthDense),
    forearmMassSamples.concat(forearmMassCore, forearmMassDense),
  ];
  const avgX = [avgXLength, avgXLength, avgXMass];
  const avgY = [avgUpperArm, avgForearmLength, avgForearmMass];

  const grid: any[] = [];
  const xAxis: any[] = [];
  const yAxis: any[] = [];
  const series: any[] = [];

  gridBoxes.forEach((g, i) => {
    grid.push({
      left: g.left,
      top: 79,
      width: g.width,
      height: 378,
      show: true,
      borderColor: "#000",
      borderWidth: 1.2,
      backgroundColor: "transparent",
    });
    const xt = i === 2 ? xTicks3 : xTicks1;
    xAxis.push({
      type: "value",
      gridIndex: i,
      min: xRanges[i][0],
      max: xRanges[i][1],
      position: "bottom",
      axisLine: { show: false },
      axisTick: { show: true, inside: true, length: 9, customValues: xt, lineStyle: { color: "#9a9a9a" } },
      axisLabel: {
        show: true,
        customValues: xt,
        margin: 12,
        color: "#000",
        fontFamily: FONT,
        fontSize: 20,
        formatter: (v: number) => minusFmt(v),
      },
      splitLine: { show: true, lineStyle: { color: "#c8c8c8", width: 1 } },
      name: `{a|${panelTitles[i]}}{i|x}{s|${panelSubscripts[i]}}`,
      nameLocation: "middle",
      nameGap: 46,
      nameTextStyle: {
        color: "#000",
        fontFamily: FONT,
        fontSize: 22,
        rich: {
          a: { fontFamily: FONT, fontSize: 22, color: "#000", lineHeight: 28 },
          i: { fontFamily: FONT, fontSize: 22, fontStyle: "italic", color: "#000", lineHeight: 28 },
          s: { fontFamily: FONT, fontSize: 15, color: "#000", lineHeight: 12, verticalAlign: "bottom" },
        },
      },
    });
    xAxis.push({
      type: "value",
      gridIndex: i,
      min: xRanges[i][0],
      max: xRanges[i][1],
      position: "top",
      axisLine: { show: false },
      axisTick: { show: true, inside: true, length: 9, customValues: xt, lineStyle: { color: "#9a9a9a" } },
      axisLabel: { show: false, customValues: xt },
      splitLine: { show: false },
    });
    yAxis.push({
      type: "value",
      gridIndex: i,
      min: -5,
      max: 5,
      position: "left",
      axisLine: { show: false },
      axisTick: { show: true, inside: true, length: 9, customValues: yTicks, lineStyle: { color: "#9a9a9a" } },
      axisLabel: {
        show: i === 0,
        customValues: yTicks,
        margin: 12,
        color: "#000",
        fontFamily: FONT,
        fontSize: 20,
        formatter: (v: number) => minusFmt(v),
      },
      splitLine: { show: true, lineStyle: { color: "#c8c8c8", width: 1 } },
      name: i === 0 ? "Estimation error [Nm/rad]" : "",
      nameLocation: "middle",
      nameGap: 62,
      nameTextStyle: { color: "#000", fontFamily: FONT, fontSize: 22 },
    });
    yAxis.push({
      type: "value",
      gridIndex: i,
      min: -5,
      max: 5,
      position: "right",
      axisLine: { show: false },
      axisTick: { show: true, inside: true, length: 9, customValues: yTicks, lineStyle: { color: "#9a9a9a" } },
      axisLabel: { show: false, customValues: yTicks },
      splitLine: { show: false },
    });

    series.push({
      name: SERIES_SAMPLE,
      type: "scatter",
      xAxisIndex: i * 2,
      yAxisIndex: i * 2,
      data: samples[i],
      symbol: "circle",
      symbolSize: 8,
      itemStyle: { color: "#000", opacity: 1 },
      z: 2,
    });
    series.push({
      name: SERIES_AVG,
      type: "line",
      xAxisIndex: i * 2,
      yAxisIndex: i * 2,
      data: avgX[i].map((x, k) => [x, avgY[i][k]]),
      symbol: "circle",
      symbolSize: 19,
      showSymbol: true,
      lineStyle: { color: RED, width: 3.5 },
      itemStyle: { color: RED, opacity: 1 },
      z: 3,
    });
  });

  return {
    animation: false,
    backgroundColor: "#fff",
    textStyle: { fontFamily: FONT },
    legend: {
      left: 392,
      top: 4,
      orient: "horizontal",
      padding: [11, 18, 11, 2],
      itemGap: 42,
      itemWidth: 29,
      itemHeight: 22,
      borderColor: "#000",
      borderWidth: 1,
      selectedMode: false,
      textStyle: { color: "#000", fontFamily: FONT, fontSize: 23 },
      data: [
        { name: SERIES_SAMPLE, icon: smallDotIcon, itemStyle: { color: "#000", opacity: 1 } },
        { name: SERIES_AVG, icon: bigDotIcon, itemStyle: { color: RED, opacity: 1 } },
      ],
    },
    grid,
    xAxis,
    yAxis,
    series,
  };
}

export default function App() {
  const ref = useRef<HTMLDivElement>(null);
  useEffect(() => {
    if (!ref.current) return;
    const chart = echarts.init(ref.current, undefined, { renderer: "svg" });
    chart.setOption(buildOption() as any);
    return () => chart.dispose();
  }, []);
  return (
    <div
      ref={ref}
      style={{ position: "absolute", left: 0, top: 0, width: 1325, height: 537, background: "#fff" }}
    />
  );
}
